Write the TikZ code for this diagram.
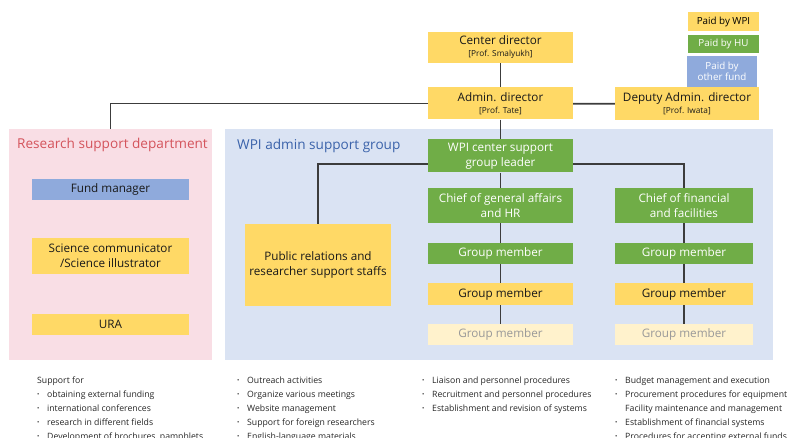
\documentclass[tikz,border=0pt]{standalone}
\usepackage{fontspec}
\setmainfont{Open Sans}
\usetikzlibrary{positioning}
\definecolor{wpiyellow}{HTML}{FFD966}
\definecolor{hugreen}{HTML}{70AD47}
\definecolor{fundblue}{HTML}{8FAADC}
\definecolor{vacant}{HTML}{FFF2CC}
\definecolor{rsdpink}{HTML}{F9DEE5}
\definecolor{wsgblue}{HTML}{DAE3F3}
\definecolor{rsdred}{HTML}{D4545C}
\definecolor{wsgtitle}{HTML}{3A62AA}
\definecolor{linkgray}{HTML}{3C3C3C}
\newcommand{\boxfont}{\fontsize{11.7}{15}\selectfont}
\newcommand{\profname}[1]{{\fontsize{8.3}{10}\selectfont [#1]}}
\newcommand{\itm}{\raisebox{0.6pt}{\scalebox{0.7}{\textbullet}}}

\begin{document}
\begin{tikzpicture}[x=1pt, y=-1pt,
  box/.style={minimum width=145, minimum height=21, inner sep=0pt, align=center, font=\boxfont},
  wpi/.style={box, fill=wpiyellow, text=black!90},
  hu/.style={box, fill=hugreen, text=white},
  other/.style={box, fill=fundblue, text=black!90},
  spare/.style={box, fill=vacant, text=black!40},
  panel/.style={minimum width=#1, minimum height=231, inner sep=0pt},
  legend/.style={minimum width=71, minimum height=19, inner sep=0pt, align=center, font=\fontsize{9.8}{12}\selectfont},
  link/.style={draw=linkgray, line width=1.8},
  note/.style={anchor=north west, inner sep=0pt, font=\fontsize{8.7}{14}\selectfont, text=black!85}]
  \clip (0,0) rectangle (790,438);

  % Panels
  \node[panel=203, fill=rsdpink] (rsd) at (110.5, 244.5) {};
  \node[panel=548, fill=wsgblue] (wsg) at (499, 244.5) {};
  \node[anchor=west, inner sep=0pt, text=rsdred, font=\fontsize{13.6}{16}\selectfont] (rsdtitle) at (17, 145) {Research support department};
  \node[anchor=west, inner sep=0pt, text=wsgtitle, font=\fontsize{13.6}{16}\selectfont] (wsgtitle) at (237, 146) {WPI admin support group};

  % Legend
  \node[legend, fill=wpiyellow] (lwpi) at (723.5, 21.5) {Paid by WPI};
  \node[legend, fill=hugreen, text=white, minimum height=18] (lhu) at (723.5, 44) {Paid by HU};
  \node[legend, fill=fundblue, text=white, minimum width=70, minimum height=31] (loth) at (722, 71.5) {Paid by\\[-1pt]other fund};

  % Top: directors
  \node[wpi, minimum height=31] (cd) at (500.5, 47.5) {Center director\\[-3pt]\profname{Prof. Smalyukh}};
  \node[wpi, minimum height=32] (ad) at (500.5, 103.5) {Admin. director\\[-3pt]\profname{Prof. Tate}};
  \node[wpi, minimum width=144, minimum height=33] (dep) at (687, 104) {Deputy Admin. director\\[-3pt]\profname{Prof. Iwata}};

  % Left: research support department
  \node[other, minimum width=157] (fund) at (110.5, 189.5) {Fund manager};
  \node[wpi, minimum width=157, minimum height=36] (sci) at (110.5, 256) {Science communicator\\/Science illustrator};
  \node[wpi, minimum width=157] (ura) at (110.5, 324.5) {URA};

  % Right: WPI admin support group
  \node[hu, minimum height=33] (leader) at (500.5, 156) {WPI center support\\group leader};
  \node[wpi, minimum width=146, minimum height=82] (pr) at (318, 265) {Public relations and\\researcher support staffs};
  \node[hu, minimum height=35] (chiefG) at (500.5, 205.5) {Chief of general affairs\\and HR};
  \node[hu] (gmG1) at (500.5, 253.5) {Group member};
  \node[wpi, minimum height=22] (gmG2) at (500.5, 294) {Group member};
  \node[spare] (gmG3) at (500.5, 334.5) {Group member};
  \node[hu, minimum width=138, minimum height=35] (chiefF) at (684, 205.5) {Chief of financial\\and facilities};
  \node[hu, minimum width=138] (gmF1) at (684, 253.5) {Group member};
  \node[wpi, minimum width=138, minimum height=22] (gmF2) at (684, 294) {Group member};
  \node[spare, minimum width=138] (gmF3) at (684, 334.5) {Group member};

  % Reporting lines
  \draw[link] (cd) -- (ad);
  \draw[link] (ad) -- (dep);
  \draw[link] (ad.west) -| (rsd.north);
  \draw[link] (ad) -- (leader);
  \draw[link] ([yshift=-8pt]leader.west) -| (pr.north);
  \draw[link] ([yshift=-8pt]leader.east) -| (chiefF.north);
  \draw[link] (leader) -- (chiefG) -- (gmG1) -- (gmG2) -- (gmG3);
  \draw[link] (chiefF) -- (gmF1) -- (gmF2) -- (gmF3);

  % Duties below each panel
  \node[note] (dutyRsd) at (37, 373) {\begin{tabular}{@{}p{10pt}@{}l@{}}
    \multicolumn{2}{@{}l@{}}{Support for}\\
    \itm & obtaining external funding\\
    \itm & international conferences\\
    \itm & research in different fields\\
    \itm & Development of brochures, pamphlets
  \end{tabular}};
  \node[note] (dutyPr) at (237, 373) {\begin{tabular}{@{}p{10pt}@{}l@{}}
    \itm & Outreach activities\\
    \itm & Organize various meetings\\
    \itm & Website management\\
    \itm & Support for foreign researchers\\
    \itm & English-language materials
  \end{tabular}};
  \node[note] (dutyG) at (422, 373) {\begin{tabular}{@{}p{10pt}@{}l@{}}
    \itm & Liaison and personnel procedures\\
    \itm & Recruitment and personnel procedures\\
    \itm & Establishment and revision of systems
  \end{tabular}};
  \node[note] (dutyF) at (615, 373) {\begin{tabular}{@{}p{10pt}@{}l@{}}
    \itm & Budget management and execution\\
    \itm & Procurement procedures for equipment\\
         & Facility maintenance and management\\
    \itm & Establishment of financial systems\\
    \itm & Procedures for accepting external funds
  \end{tabular}};
\end{tikzpicture}
\end{document}
